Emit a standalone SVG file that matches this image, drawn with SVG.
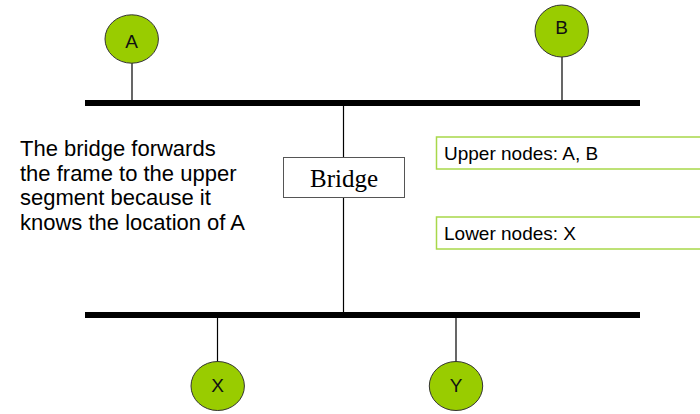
<svg xmlns="http://www.w3.org/2000/svg" width="700" height="414" viewBox="0 0 700 414">
  <style>
    .bus { stroke: #000; stroke-width: 6; }
    .wire { stroke: #000; stroke-width: 1.2; fill: none; }
    .station { fill: #99cc00; stroke: #333; stroke-width: 1; }
    .slabel { font-family: "Liberation Sans", Arial, sans-serif; font-size: 19px; fill: #111; text-anchor: middle; }
    .note { font-family: "Liberation Sans", Arial, sans-serif; font-size: 22px; fill: #000; }
    .table { fill: #fff; stroke: #a8d84a; stroke-width: 1.5; }
    .ttext { font-family: "Liberation Sans", Arial, sans-serif; font-size: 19px; fill: #000; }
    .bridge { fill: #fff; stroke: #555; stroke-width: 1; }
    .btext { font-family: "Liberation Serif", "Times New Roman", serif; font-size: 25px; fill: #000; text-anchor: middle; }
  </style>

  <!-- connectors: segments and drop lines -->
  <g id="connectors">
    <line class="bus" x1="85" y1="103" x2="640" y2="103"/>
    <line class="bus" x1="85" y1="315" x2="640" y2="315"/>
    <line class="wire" x1="132" y1="63" x2="132" y2="100"/>
    <line class="wire" x1="562" y1="57" x2="562" y2="100"/>
    <line class="wire" x1="343.5" y1="106" x2="343.5" y2="312"/>
    <line class="wire" x1="217.5" y1="318" x2="217.5" y2="362"/>
    <line class="wire" x1="456" y1="318" x2="456" y2="362"/>
  </g>

  <g id="bridge">
    <rect class="bridge" x="283.5" y="157.5" width="121" height="40"/>
    <text class="btext" x="344" y="187">Bridge</text>
  </g>

  <g id="node-A">
    <ellipse class="station" cx="131.7" cy="39" rx="26.7" ry="24.2"/>
    <text class="slabel" x="131.7" y="47.5">A</text>
  </g>
  <g id="node-B">
    <ellipse class="station" cx="561.7" cy="31" rx="26.7" ry="26"/>
    <text class="slabel" x="561.7" y="33.5">B</text>
  </g>
  <g id="node-X">
    <ellipse class="station" cx="217.7" cy="386" rx="26.7" ry="24.5"/>
    <text class="slabel" x="217.7" y="392">X</text>
  </g>
  <g id="node-Y">
    <ellipse class="station" cx="456" cy="386" rx="26.7" ry="24.5"/>
    <text class="slabel" x="456" y="392">Y</text>
  </g>

  <g id="upper-table">
    <rect class="table" x="436.5" y="137" width="280" height="32"/>
    <text class="ttext" x="444" y="160">Upper nodes: A, B</text>
  </g>
  <g id="lower-table">
    <rect class="table" x="436.5" y="217" width="280" height="32"/>
    <text class="ttext" x="444" y="240">Lower nodes: X</text>
  </g>

  <g id="caption">
    <text class="note" x="20" y="156">The bridge forwards</text>
    <text class="note" x="20" y="180.5">the frame to the upper</text>
    <text class="note" x="20" y="205">segment because it</text>
    <text class="note" x="20" y="229.5">knows the location of A</text>
  </g>
</svg>
